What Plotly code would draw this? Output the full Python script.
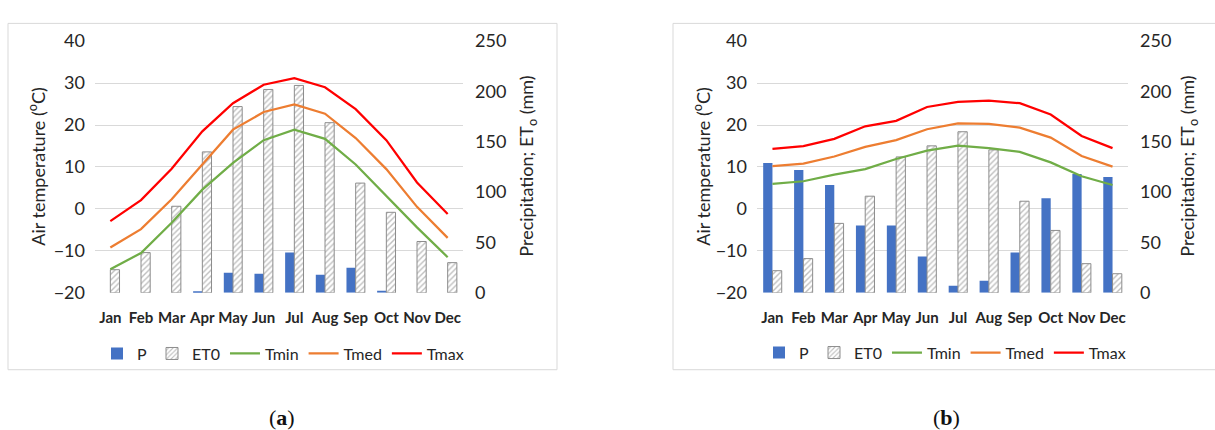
import plotly.graph_objects as go

months = ["Jan", "Feb", "Mar", "Apr", "May", "Jun", "Jul", "Aug", "Sep", "Oct", "Nov", "Dec"]

# Station (a)
p_a = [0, 0, 0, 1, 20, 19, 40, 18, 25, 2, 0, 0]
et0_a = [23, 40, 86, 140, 185, 202, 206, 169, 109, 80, 51, 30]
tmin_a = [-14.4, -10.5, -3.3, 4.6, 11.0, 16.4, 18.9, 16.7, 10.6, 3.1, -4.4, -11.5]
tmed_a = [-9.2, -4.8, 2.3, 10.6, 18.9, 23.1, 24.9, 22.7, 16.9, 9.5, 0.5, -6.9]
tmax_a = [-2.9, 2.1, 9.6, 18.5, 25.2, 29.6, 31.2, 29.0, 23.8, 16.4, 6.3, -1.2]

# Station (b)
p_b = [129, 122, 107, 67, 67, 36, 7, 12, 40, 94, 118, 115]
et0_b = [22, 34, 69, 96, 135, 146, 160, 142, 91, 62, 29, 19]
tmin_b = [6.0, 6.6, 8.2, 9.5, 11.9, 13.9, 15.1, 14.5, 13.6, 11.1, 7.8, 5.7]
tmed_b = [10.2, 10.8, 12.5, 14.8, 16.4, 19.0, 20.4, 20.3, 19.4, 17.0, 12.6, 10.1]
tmax_b = [14.3, 15.0, 16.7, 19.7, 21.0, 24.3, 25.5, 25.8, 25.2, 22.5, 17.4, 14.5]

temp_ticks = [-20, -10, 0, 10, 20, 30, 40]
mm_ticks = [0, 50, 100, 150, 200, 250]

W, H = 1215, 430
FONT = "Lato"
TXT = "#262626"
GRID = "#d9d9d9"
BLUE = "#4472c4"
GREEN = "#70ad47"
ORANGE = "#ed7d31"
RED = "#ff0000"


def px(x):
    return x / W


def py(y):
    return 1 - y / H


fig = go.Figure()

panels = [
    # (x axis, precip axis, temp axis, legend, data)
    ("x", "y", "y2", "legend", p_a, et0_a, tmin_a, tmed_a, tmax_a),
    ("x2", "y3", "y4", "legend2", p_b, et0_b, tmin_b, tmed_b, tmax_b),
]

for xa, ymm, yt, leg, p, et0, tmin, tmed, tmax in panels:
    fig.add_trace(go.Bar(x=months, y=p, name="P", xaxis=xa, yaxis=ymm, legend=leg,
                         marker=dict(color=BLUE, line=dict(width=0))))
    fig.add_trace(go.Bar(x=months, y=et0, name="ET0", xaxis=xa, yaxis=ymm, legend=leg,
                         marker=dict(color="white", line=dict(color="#8c8c8c", width=1),
                                     pattern=dict(shape="/", fgcolor="#7f7f7f", bgcolor="white",
                                                  size=4, solidity=0.35))))
    for name, vals, col in (("Tmin", tmin, GREEN), ("Tmed", tmed, ORANGE), ("Tmax", tmax, RED)):
        fig.add_trace(go.Scatter(x=months, y=vals, name=name, mode="lines", xaxis=xa, yaxis=yt,
                                 legend=leg, line=dict(color=col, width=2.25)))

ydom = [py(296), py(30.7)]
xdom_a = [px(95), px(463)]
xdom_b = [px(757), px(1128)]

xcommon = dict(showgrid=False, zeroline=False, showline=False, ticks="",
               tickfont=dict(family=FONT, size=15, color=TXT, weight="bold"),
               ticklabelstandoff=14)
mmcommon = dict(range=[0, 250], tickvals=mm_ticks, side="right", showgrid=False,
                zeroline=False, showline=False, ticks="",
                tickfont=dict(family=FONT, size=18, color=TXT), ticklabelstandoff=11)
tcommon = dict(range=[-20, 40], tickvals=temp_ticks, side="left", showgrid=True,
               gridcolor=GRID, gridwidth=1, zeroline=False, showline=False, ticks="",
               tickfont=dict(family=FONT, size=18, color=TXT), ticklabelstandoff=9)

legfont = dict(family=FONT, size=16, color=TXT)
fig.update_layout(
    width=W, height=H,
    margin=dict(l=0, r=0, t=0, b=0),
    paper_bgcolor="white", plot_bgcolor="white",
    barmode="group", bargap=0.4, bargroupgap=0,
    xaxis=dict(domain=xdom_a, anchor="y", **xcommon),
    xaxis2=dict(domain=xdom_b, anchor="y3", **xcommon),
    yaxis=dict(domain=ydom, anchor="x", **mmcommon),
    yaxis2=dict(overlaying="y", anchor="x", **tcommon),
    yaxis3=dict(domain=ydom, anchor="x2", **mmcommon),
    yaxis4=dict(overlaying="y3", anchor="x2", **tcommon),
    legend=dict(orientation="h", x=px(283), y=py(360), xanchor="center", yanchor="middle",
                font=legfont, traceorder="normal", itemwidth=30, bgcolor="rgba(0,0,0,0)"),
    legend2=dict(orientation="h", x=px(945), y=py(359), xanchor="center", yanchor="middle",
                 font=legfont, traceorder="normal", itemwidth=30, bgcolor="rgba(0,0,0,0)"),
)

# Chart frames
for x0, x1 in ((8, 557), (673, 1230)):
    fig.add_shape(type="rect", xref="paper", yref="paper",
                  x0=px(x0), x1=px(x1), y0=py(377), y1=py(12),
                  line=dict(color=GRID, width=1), fillcolor="rgba(0,0,0,0)", layer="below")

# Axis titles and panel captions
ann_font = dict(family=FONT, size=18, color=TXT)
for xl, xr in ((37, 528), (702, 1189)):
    fig.add_annotation(text="Air temperature (<sup>o</sup>C)", xref="paper", yref="paper",
                       x=px(xl), y=py(163), textangle=-90, showarrow=False,
                       xanchor="center", yanchor="middle", font=ann_font)
    fig.add_annotation(text="Precipitation; ET<sub>o</sub> (mm)", xref="paper", yref="paper",
                       x=px(xr), y=py(163), textangle=-90, showarrow=False,
                       xanchor="center", yanchor="middle", font=ann_font)

for lab, xc in (("a", 282), ("b", 946)):
    fig.add_annotation(text=f"(<b>{lab}</b>)", xref="paper", yref="paper",
                       x=px(xc), y=py(427), showarrow=False, xanchor="center", yanchor="middle",
                       font=dict(family="Liberation Serif", size=22, color="#111111"))

fig.write_html("out.html")
